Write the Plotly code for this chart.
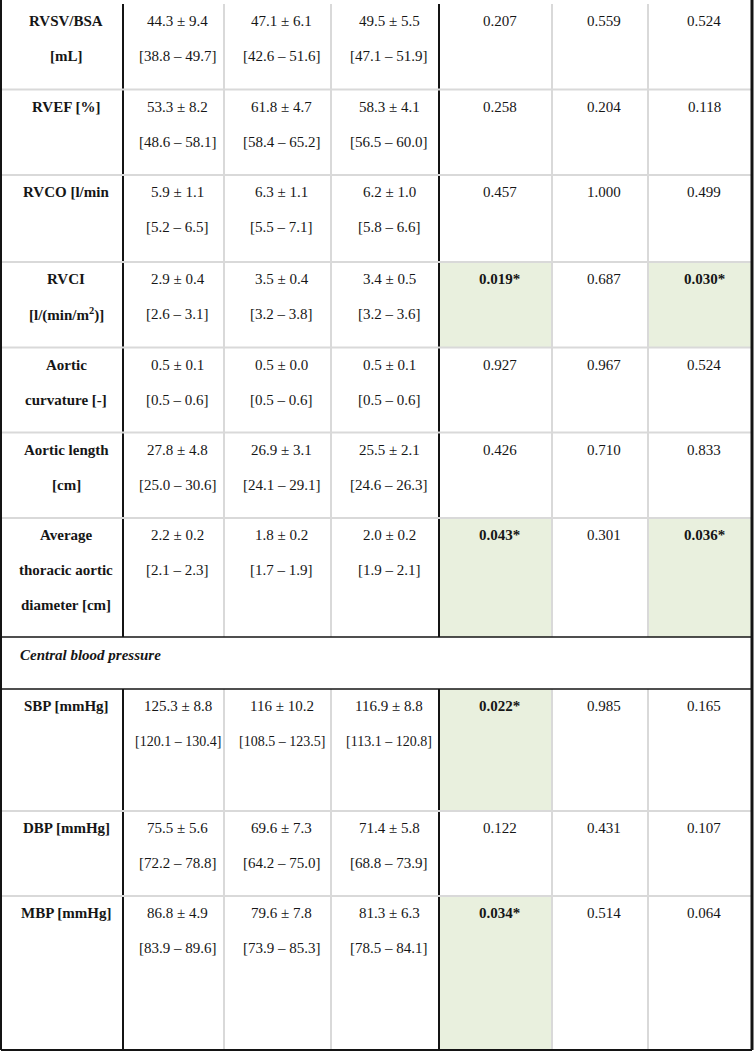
import plotly.graph_objects as go

# ---------------- data ----------------
labels = [["RVSV/BSA", "[mL]"], ["RVEF [%]"], ["RVCO [l/min"], ["RVCI", "[l/(min/m<sup>2</sup>)]"],
          ["Aortic", "curvature [-]"], ["Aortic length", "[cm]"],
          ["Average", "thoracic aortic", "diameter [cm]"],
          None,
          ["SBP [mmHg]"], ["DBP [mmHg]"], ["MBP [mmHg]"]]
section_title = "Central blood pressure"

g1_mean = ["44.3 ± 9.4", "53.3 ± 8.2", "5.9 ± 1.1", "2.9 ± 0.4", "0.5 ± 0.1", "27.8 ± 4.8",
           "2.2 ± 0.2", None, "125.3 ± 8.8", "75.5 ± 5.6", "86.8 ± 4.9"]
g1_range = ["[38.8 – 49.7]", "[48.6 – 58.1]", "[5.2 – 6.5]", "[2.6 – 3.1]", "[0.5 – 0.6]",
            "[25.0 – 30.6]", "[2.1 – 2.3]", None, "[120.1 – 130.4]", "[72.2 – 78.8]", "[83.9 – 89.6]"]
g2_mean = ["47.1 ± 6.1", "61.8 ± 4.7", "6.3 ± 1.1", "3.5 ± 0.4", "0.5 ± 0.0", "26.9 ± 3.1",
           "1.8 ± 0.2", None, "116 ± 10.2", "69.6 ± 7.3", "79.6 ± 7.8"]
g2_range = ["[42.6 – 51.6]", "[58.4 – 65.2]", "[5.5 – 7.1]", "[3.2 – 3.8]", "[0.5 – 0.6]",
            "[24.1 – 29.1]", "[1.7 – 1.9]", None, "[108.5 – 123.5]", "[64.2 – 75.0]", "[73.9 – 85.3]"]
g3_mean = ["49.5 ± 5.5", "58.3 ± 4.1", "6.2 ± 1.0", "3.4 ± 0.5", "0.5 ± 0.1", "25.5 ± 2.1",
           "2.0 ± 0.2", None, "116.9 ± 8.8", "71.4 ± 5.8", "81.3 ± 6.3"]
g3_range = ["[47.1 – 51.9]", "[56.5 – 60.0]", "[5.8 – 6.6]", "[3.2 – 3.6]", "[0.5 – 0.6]",
            "[24.6 – 26.3]", "[1.9 – 2.1]", None, "[113.1 – 120.8]", "[68.8 – 73.9]", "[78.5 – 84.1]"]
p1 = ["0.207", "0.258", "0.457", "0.019", "0.927", "0.426", "0.043", None, "0.022", "0.122", "0.034"]
p2 = ["0.559", "0.204", "1.000", "0.687", "0.967", "0.710", "0.301", None, "0.985", "0.431", "0.514"]
p3 = ["0.524", "0.118", "0.499", "0.030", "0.524", "0.833", "0.036", None, "0.165", "0.107", "0.064"]
alpha = 0.05

# ---------------- layout ----------------
W, H = 755, 1051
col_edges = [1, 123, 224, 331, 439, 552, 648, 752]
row_start = 4
row_heights = [85.5, 85.5, 87, 85.5, 85, 85.5, 119, 52, 122, 85, 154]
text_offset_x = 4
first_line = 17
line_gap = 35
FONT = "Liberation Serif"
FS = 15
TXT = "#161616"
GREY = "#d9d9d9"
BLACK = "#141414"
GREEN = "#e9f0de"

row_tops = [row_start]
for h in row_heights:
    row_tops.append(row_tops[-1] + h)

fig = go.Figure()
shapes = []
annotations = []


def cx(c):
    return (col_edges[c] + col_edges[c + 1]) / 2 + text_offset_x


def add_text(x, y, t, xanchor="center", size=FS):
    annotations.append(dict(x=x, y=y, xref="x", yref="y", text=t, showarrow=False,
                            xanchor=xanchor, yanchor="middle",
                            font=dict(family=FONT, size=size, color=TXT)))


section_rows = [i for i, l in enumerate(labels) if l is None]

# green fills
for i in range(len(labels)):
    if labels[i] is None:
        continue
    for c, pv in zip([4, 5, 6], [p1, p2, p3]):
        if float(pv[i]) < alpha:
            shapes.append(dict(type="rect", xref="x", yref="y", x0=col_edges[c], x1=col_edges[c + 1],
                               y0=row_tops[i], y1=row_tops[i + 1], fillcolor=GREEN, line=dict(width=0),
                               layer="below"))

# vertical internal lines (per row, not in section rows)
for i in range(len(labels)):
    if labels[i] is None:
        continue
    for c in [2, 3, 5, 6]:
        shapes.append(dict(type="line", xref="x", yref="y", x0=col_edges[c], x1=col_edges[c],
                           y0=row_tops[i], y1=row_tops[i + 1], line=dict(color=GREY, width=2)))
    for c in [1, 4]:
        shapes.append(dict(type="line", xref="x", yref="y", x0=col_edges[c], x1=col_edges[c],
                           y0=row_tops[i], y1=row_tops[i + 1], line=dict(color=BLACK, width=2)))

# horizontal lines
for k in range(1, len(row_tops) - 1):
    y = row_tops[k]
    if (k - 1) in section_rows or k in section_rows:
        continue
    shapes.append(dict(type="line", xref="x", yref="y", x0=col_edges[0], x1=col_edges[-1],
                       y0=y, y1=y, line=dict(color=GREY, width=2)))
for s in section_rows:
    for y in (row_tops[s], row_tops[s + 1]):
        shapes.append(dict(type="line", xref="x", yref="y", x0=col_edges[0], x1=col_edges[-1],
                           y0=y, y1=y, line=dict(color=BLACK, width=1.5)))
shapes.append(dict(type="line", xref="x", yref="y", x0=col_edges[0], x1=col_edges[-1],
                   y0=row_tops[-1], y1=row_tops[-1], line=dict(color=BLACK, width=2)))

# outer borders
shapes.append(dict(type="line", xref="x", yref="y", x0=col_edges[0], x1=col_edges[0],
                   y0=0, y1=row_tops[-1], line=dict(color=BLACK, width=2)))
shapes.append(dict(type="line", xref="x", yref="y", x0=col_edges[-1], x1=col_edges[-1],
                   y0=0, y1=row_tops[-1], line=dict(color=BLACK, width=3)))

# texts
for i in range(len(labels)):
    top = row_tops[i]
    if labels[i] is None:
        add_text(18, top + 18, "<b><i>" + section_title + "</i></b>", xanchor="left")
        continue
    for k, line in enumerate(labels[i]):
        add_text(cx(0), top + first_line + k * line_gap, "<b>" + line + "</b>")
    for c, (m, r) in zip([1, 2, 3], [(g1_mean, g1_range), (g2_mean, g2_range), (g3_mean, g3_range)]):
        add_text(cx(c), top + first_line, m[i])
        add_text(cx(c), top + first_line + line_gap, r[i], size=FS if len(r[i]) < 15 else 14)
    for c, pv in zip([4, 5, 6], [p1, p2, p3]):
        t = pv[i]
        if float(t) < alpha:
            t = "<b>" + t + "*</b>"
        add_text(cx(c), top + first_line, t)

fig.update_layout(
    width=W, height=H, margin=dict(l=0, r=0, t=0, b=0),
    paper_bgcolor="white", plot_bgcolor="white",
    xaxis=dict(range=[0, W], visible=False, fixedrange=True),
    yaxis=dict(range=[H, 0], visible=False, fixedrange=True),
    shapes=shapes, annotations=annotations, showlegend=False,
)
fig.write_html("out.html", config={"displayModeBar": False, "staticPlot": True},
               post_script="document.body.style.margin='0';document.body.style.overflow='hidden';")
